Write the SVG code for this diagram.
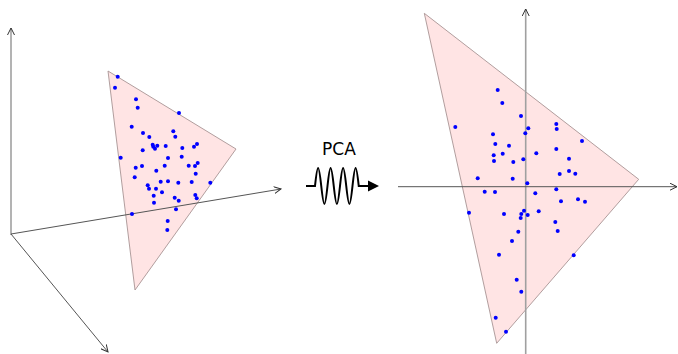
<svg xmlns="http://www.w3.org/2000/svg" width="678" height="354" viewBox="0 0 678 354">
<style>
.tri{fill:#ffe4e4;stroke:#a89494;stroke-width:0.9}
.axl{fill:none;stroke:#a0a0a0;stroke-width:1.6}
.axd{fill:none;stroke:#555;stroke-width:1}
.dot{fill:#0000ff}
.wave{fill:none;stroke:#000;stroke-width:2}
.lbl{font-family:"DejaVu Sans",sans-serif;font-size:17px;fill:#000}
</style>
<defs>
<marker id="ah" viewBox="0 0 8 8" refX="7" refY="4" markerWidth="8" markerHeight="8" markerUnits="userSpaceOnUse" orient="auto">
<path d="M0,0.5 L7,4 L0,7.5" fill="none" stroke="#333" stroke-width="1"/>
</marker>
</defs>
<g id="left-panel">
<polygon class="tri" points="108,71 236,149 135,290"/>
<g id="left-axes">
<line class="axl" x1="11" y1="235" x2="11" y2="28" marker-end="url(#ah)"/>
<line class="axd" x1="11" y1="234" x2="281" y2="189" marker-end="url(#ah)"/>
<line class="axd" x1="11" y1="234" x2="108" y2="352" marker-end="url(#ah)"/>
</g>
<g id="left-points" class="dot">
<circle cx="117.7" cy="76.7" r="2"/><circle cx="115" cy="87.7" r="2"/><circle cx="136" cy="99.3" r="2"/><circle cx="137.7" cy="107.7" r="2"/><circle cx="179" cy="113" r="2"/><circle cx="131.7" cy="126.7" r="2"/><circle cx="143" cy="133" r="2"/><circle cx="149.3" cy="137" r="2"/><circle cx="173.3" cy="131.3" r="2"/><circle cx="175.3" cy="136.7" r="2"/><circle cx="152.7" cy="144.7" r="2"/><circle cx="153.3" cy="146.7" r="2"/><circle cx="155" cy="148.7" r="2"/><circle cx="157.3" cy="145.7" r="2"/><circle cx="165.7" cy="146" r="2"/><circle cx="142.7" cy="150.3" r="2"/><circle cx="182.3" cy="148" r="2"/><circle cx="194" cy="146.7" r="2"/><circle cx="197" cy="144" r="2"/><circle cx="120.7" cy="157.7" r="2"/><circle cx="168" cy="158" r="2"/><circle cx="181.7" cy="156.7" r="2"/><circle cx="135.7" cy="167.7" r="2"/><circle cx="142" cy="166" r="2"/><circle cx="156.3" cy="170.7" r="2"/><circle cx="164.7" cy="165.7" r="2"/><circle cx="188.7" cy="165.7" r="2"/><circle cx="195" cy="166" r="2"/><circle cx="197.7" cy="163" r="2"/><circle cx="195.7" cy="173.7" r="2"/><circle cx="134.7" cy="177.3" r="2"/>
<circle cx="147.7" cy="185.3" r="2"/><circle cx="149" cy="188.7" r="2"/><circle cx="160.7" cy="181.7" r="2"/><circle cx="168" cy="181.3" r="2"/><circle cx="156" cy="188.7" r="2"/><circle cx="178.3" cy="182.7" r="2"/><circle cx="191.7" cy="182" r="2"/><circle cx="210.3" cy="182.7" r="2"/><circle cx="153.7" cy="195.7" r="2"/><circle cx="162" cy="192.3" r="2"/><circle cx="174.7" cy="197.7" r="2"/><circle cx="178.7" cy="200.7" r="2"/><circle cx="195.3" cy="195" r="2"/><circle cx="196.7" cy="198.3" r="2"/><circle cx="154" cy="202.7" r="2"/><circle cx="176" cy="209.3" r="2"/><circle cx="132" cy="214" r="2"/><circle cx="167.7" cy="221" r="2"/><circle cx="167.3" cy="230" r="2"/>
</g>
</g>
<g id="pca-arrow">
<text class="lbl" x="339" y="155" text-anchor="middle">PCA</text>
<path class="wave" d="M306,186 H315 C317.6,162 318.6,162 321.25,186 C323.9,210 324.9,210 327.5,186 C330.1,162 331.1,162 333.75,186 C336.4,210 337.4,210 340,186 C342.6,162 343.6,162 346.25,186 C348.9,210 349.9,210 352.5,186 C355.1,162 356.1,162 358.75,186 H369"/>
<polygon points="368,180.5 379,186 368,191.5" fill="#000"/>
</g>
<g id="right-panel">
<polygon class="tri" points="424.3,13.3 638.7,179.3 496.7,343.3"/>
<g id="right-axes">
<line class="axl" x1="525.7" y1="354" x2="525.7" y2="9" marker-end="url(#ah)"/>
<line class="axd" x1="398" y1="186.7" x2="677" y2="186.7" marker-end="url(#ah)"/>
</g>
<g id="right-points" class="dot">
<circle cx="497.7" cy="90" r="2"/><circle cx="502.3" cy="103" r="2"/><circle cx="521" cy="116" r="2"/><circle cx="455.3" cy="127" r="2"/><circle cx="528.3" cy="128.3" r="2"/><circle cx="556.3" cy="124" r="2"/><circle cx="556.7" cy="129" r="2"/><circle cx="493" cy="134.3" r="2"/><circle cx="525.3" cy="133.3" r="2"/><circle cx="582" cy="141" r="2"/><circle cx="495.3" cy="144" r="2"/><circle cx="509" cy="145.7" r="2"/><circle cx="556.3" cy="149" r="2"/><circle cx="493.7" cy="155.3" r="2"/><circle cx="502.7" cy="153.7" r="2"/><circle cx="536.3" cy="153.3" r="2"/><circle cx="494" cy="161" r="2"/><circle cx="513.3" cy="162" r="2"/><circle cx="523.3" cy="159.3" r="2"/><circle cx="569" cy="158.7" r="2"/><circle cx="559.7" cy="174" r="2"/><circle cx="569" cy="171" r="2"/><circle cx="575.3" cy="173.7" r="2"/><circle cx="477.7" cy="178.3" r="2"/><circle cx="512.7" cy="178.7" r="2"/>
<circle cx="527.3" cy="183.3" r="2"/><circle cx="484.7" cy="191.7" r="2"/><circle cx="495" cy="192" r="2"/><circle cx="535.3" cy="193.3" r="2"/><circle cx="556.3" cy="189.3" r="2"/><circle cx="561" cy="201.3" r="2"/><circle cx="578" cy="199.3" r="2"/><circle cx="585" cy="201.7" r="2"/><circle cx="469" cy="212.7" r="2"/><circle cx="504" cy="214" r="2"/><circle cx="521.3" cy="214" r="2"/><circle cx="524" cy="210.7" r="2"/><circle cx="527.7" cy="215" r="2"/><circle cx="538.7" cy="211.3" r="2"/><circle cx="520.7" cy="218" r="2"/><circle cx="555.3" cy="222" r="2"/><circle cx="557.7" cy="231" r="2"/><circle cx="518.3" cy="231.7" r="2"/><circle cx="512" cy="241" r="2"/><circle cx="499" cy="254.7" r="2"/><circle cx="573.7" cy="255.3" r="2"/><circle cx="516.7" cy="279.7" r="2"/><circle cx="521.3" cy="291.7" r="2"/><circle cx="495.7" cy="317.7" r="2"/><circle cx="506" cy="331.7" r="2"/>
</g>
</g>
</svg>
